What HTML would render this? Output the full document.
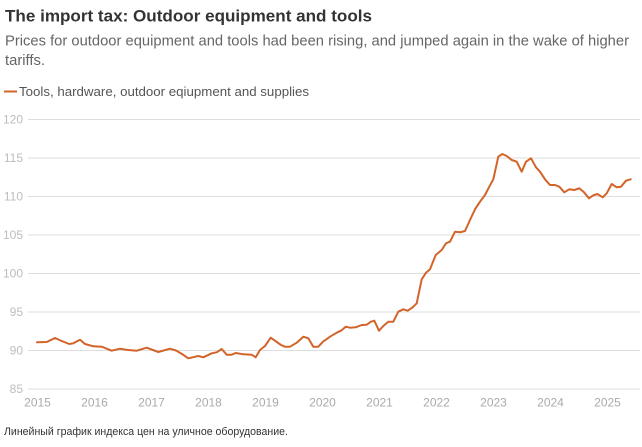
<!DOCTYPE html>
<html><head><meta charset="utf-8"><style>
html,body{margin:0;padding:0;background:#fff;}
svg{display:block;}
text{font-family:"Liberation Sans","Noto Sans CJK SC",sans-serif;}
</style></head><body>
<svg width="642" height="447" viewBox="0 0 642 447" xmlns="http://www.w3.org/2000/svg">
<rect width="642" height="447" fill="#fff"/>
<text x="5" y="21.5" font-size="17" font-weight="bold" fill="#333" textLength="367" lengthAdjust="spacingAndGlyphs">The import tax: Outdoor equipment and tools</text>
<text x="5" y="45.5" font-size="14.5" fill="#666" textLength="624" lengthAdjust="spacingAndGlyphs">Prices for outdoor equipment and tools had been rising, and jumped again in the wake of higher</text>
<text x="5" y="65" font-size="14.5" fill="#666" textLength="40" lengthAdjust="spacingAndGlyphs">tariffs.</text>
<line x1="4" y1="91.5" x2="17" y2="91.5" stroke="#d2642a" stroke-width="2"/>
<text x="19" y="96" font-size="13" fill="#555" textLength="290" lengthAdjust="spacingAndGlyphs">Tools, hardware, outdoor eqiupment and supplies</text>
<g stroke="#dedede" stroke-width="1">
<line x1="28" y1="119.5" x2="640" y2="119.5"/>
<line x1="28" y1="158" x2="640" y2="158"/>
<line x1="28" y1="196.5" x2="640" y2="196.5"/>
<line x1="28" y1="235" x2="640" y2="235"/>
<line x1="28" y1="273.5" x2="640" y2="273.5"/>
<line x1="28" y1="312" x2="640" y2="312"/>
<line x1="28" y1="350.5" x2="640" y2="350.5"/>
<line x1="28" y1="389" x2="640" y2="389"/>
</g>
<g font-size="12" fill="#bdbdbd" text-anchor="end">
<text x="23" y="123.5">120</text>
<text x="23" y="162">115</text>
<text x="23" y="200.5">110</text>
<text x="23" y="239">105</text>
<text x="23" y="277.5">100</text>
<text x="23" y="316">95</text>
<text x="23" y="354.5">90</text>
<text x="23" y="393">85</text>
</g>
<g font-size="12" fill="#aaa" text-anchor="middle">
<text x="37.5" y="406.5">2015</text>
<text x="94.5" y="406.5">2016</text>
<text x="151.5" y="406.5">2017</text>
<text x="208.5" y="406.5">2018</text>
<text x="265.5" y="406.5">2019</text>
<text x="322.5" y="406.5">2020</text>
<text x="379.5" y="406.5">2021</text>
<text x="436.5" y="406.5">2022</text>
<text x="493.5" y="406.5">2023</text>
<text x="550.5" y="406.5">2024</text>
<text x="607.5" y="406.5">2025</text>
</g>
<polyline fill="none" stroke="#d2642a" stroke-width="2" stroke-linejoin="round" stroke-linecap="round" points="37,342.3 46.7,342 55,338 61.7,341 69.3,344 73.3,343.3 80,339.7 85,344 93.3,346.3 101.7,346.7 111.7,350.7 120,348.7 128.3,350 136.7,350.7 146.7,347.7 158.3,352 170,348.7 176,350.5 182,354 188.3,358.3 198.3,356 203.3,357.3 211.7,353.3 216.7,352.3 221.7,349 226.7,354.7 231.7,354.7 235.7,353 243.3,354.3 251.7,354.7 255.7,357.3 260,350 265,346 270.7,337.7 275,340.7 281,345 285,346.7 290,346.7 296.7,342.7 303.3,336.7 308.3,338.3 313.3,346.7 318.3,346.7 323,341.7 330,336.7 336.7,332.7 341,330.7 345.7,326.7 350,327.7 355.7,327.3 361.7,325 366.7,324.7 371,321.7 374.3,320.7 379,330.7 383.3,326 388.3,321.7 393.3,321.7 398.3,311.7 403.3,309.3 407.7,310.7 412.7,307.3 416.7,303.3 421.7,279.3 426,272.7 430,269.3 435.7,255 441.7,250 446,243.3 450,241.7 455,231.7 460,232.3 465,231 470,220 475,209.3 480,201.7 485,195 489.3,186.7 493.3,179.3 498.3,156.7 502.3,154 506.7,156 511.7,160 516.7,161.7 521.7,171.7 526,161.7 531,158.3 536,167.3 540,171.7 545,179.3 550,185 555,185 559.3,186.7 564.3,192.3 569.3,189.3 574.3,190 579.3,188.3 584,192.3 589,198.3 593.3,195.3 597.3,194 602.7,197.3 606.7,193.3 611.7,184 616.7,187.3 621,186.7 626,180.7 630.7,179.3"/>
<text x="4" y="435" font-size="11" fill="#333" textLength="284" lengthAdjust="spacingAndGlyphs">Линейный график индекса цен на уличное оборудование.</text>
</svg>
</body></html>
